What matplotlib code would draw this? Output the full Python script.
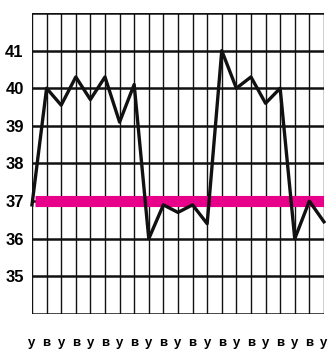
import numpy as np
import matplotlib
matplotlib.use("Agg")
import matplotlib.pyplot as plt

plt.rcParams["font.family"] = ["Liberation Sans", "DejaVu Sans"]

# temperature readings, morning / evening
day_labels = ["у", "в"] * 10 + ["у"]
temps = [36.9, 40.0, 39.55, 40.3, 39.7, 40.3, 39.1, 40.1, 36.0, 36.9,
         36.7, 36.9, 36.4, 41.0, 40.0, 40.3, 39.6, 40.0, 36.0, 37.0, 36.45]
y_ticks = [35, 36, 37, 38, 39, 40, 41]
norm_temp = 37

fig = plt.figure(figsize=(3.35, 3.51), dpi=100)
ax = fig.add_axes([0.0955, 0.1054, 0.8715, 0.8576])

x = np.arange(len(temps))
ax.set_xlim(0, len(temps) - 1)
ax.set_ylim(34, 42)

# grid
for xi in x:
    ax.axvline(xi, color="#111111", lw=1.0, zorder=1)
for yi in range(34, 43):
    ax.axhline(yi, color="#111111", lw=1.8, zorder=1)

ax.plot([0.2, len(temps) - 1], [norm_temp, norm_temp], color="#e8008a",
        lw=8, solid_capstyle="butt", zorder=2)
ax.plot(x, temps, color="#111111", lw=2.4, zorder=3, clip_on=False)

ax.set_yticks(y_ticks)
ax.set_yticklabels([str(t) for t in y_ticks], fontsize=12, fontweight="bold")
ax.set_xticks(x)
ax.set_xticklabels(day_labels, fontsize=9.5, fontweight="bold")
ax.tick_params(axis="both", length=0)
ax.tick_params(axis="y", pad=6)
ax.tick_params(axis="x", pad=16.5)

for s in ax.spines.values():
    s.set_visible(False)

fig.savefig("out.png", dpi=100)
